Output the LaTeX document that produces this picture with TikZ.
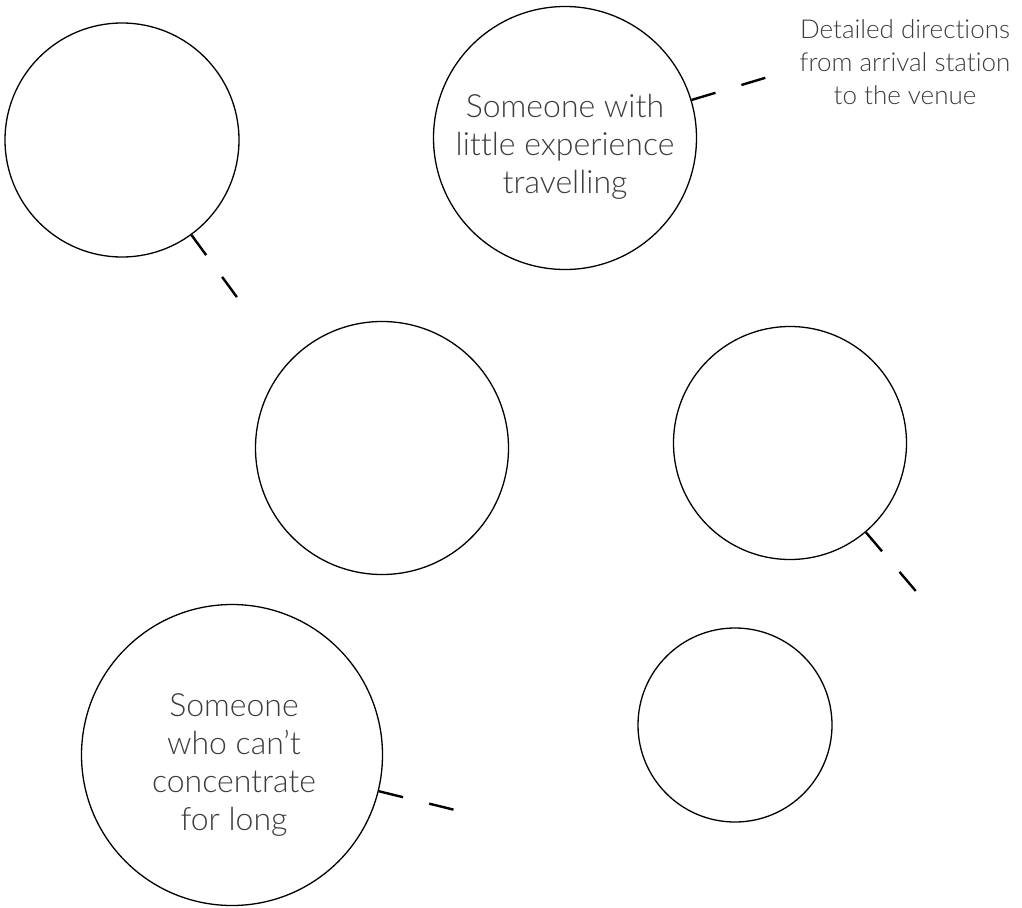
\documentclass[tikz,border=0pt]{standalone}
\usepackage{fontspec}
\setmainfont{Lato Light}[Ligatures={TeX,NoCommon}]
\usetikzlibrary{positioning}
\definecolor{mygrey}{RGB}{60,60,60}
\tikzset{
  bubble/.style={draw, circle, line width=1.3, inner sep=0},
  bubbletext/.style={inner sep=0, align=center, text=mygrey,
    font=\fontsize{32}{38}\selectfont},
  link/.style={line width=2.4, dash pattern=on 25 off 27},
  note/.style={inner sep=0, align=center, text=mygrey,
    font=\fontsize{26}{33}\selectfont}
}
\begin{document}
\begin{tikzpicture}[x=1pt, y=-1pt]
\useasboundingbox (0,0) rectangle (1022,907);

% the six circles
\node [bubble, minimum size=234] (topleft) at (122,140) {};
\node [bubble, minimum size=263] (traveller) at (565,138) {};
\node [bubble, minimum size=253] (middle) at (382,448) {};
\node [bubble, minimum size=233] (right) at (790,443) {};
\node [bubble, minimum size=194] (small) at (735,725) {};
\node [bubble, minimum size=301] (focus) at (232,755) {};

% texts in the circles
\node [bubbletext] (traveller-text) at ([yshift=-9pt]traveller.center) {Someone with\\little experience\\travelling};
\node [bubbletext] (focus-text) at ([yshift=-10pt, xshift=2pt]focus.center) {Someone\\who can't\\concentrate\\for long};

% note
\node [note] (directions) at (905,62) {Detailed directions\\from arrival station\\to the venue};

% free ends of the dashed links
\coordinate (topleft-end) at (239,300);
\coordinate (traveller-end) at (768,77);
\coordinate (right-end) at (920,596);
\coordinate (focus-end) at (455,810);

\draw [link] (topleft) -- (topleft-end);
\draw [link] (traveller) -- (traveller-end);
\draw [link] (right) -- (right-end);
\draw [link] (focus) -- (focus-end);

\end{tikzpicture}
\end{document}
